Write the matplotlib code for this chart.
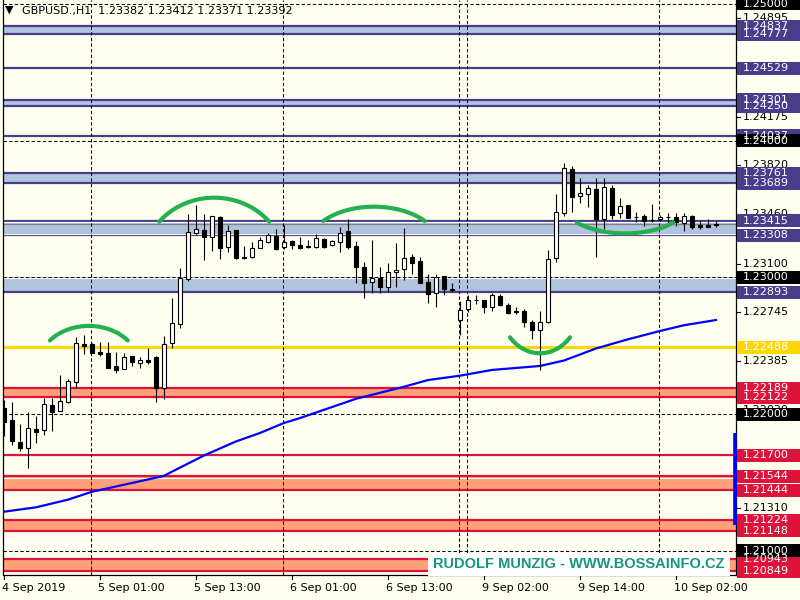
import numpy as np
import matplotlib
matplotlib.use("Agg")
import matplotlib.pyplot as plt
from matplotlib.patches import Rectangle
from matplotlib.transforms import blended_transform_factory

# GBPUSD H1, 4 Sep 2019 - 10 Sep 2019 (one value per hourly bar)
opens = [1.22042, 1.21957, 1.21798, 1.21749, 1.21891, 1.21883, 1.22066, 1.22025, 1.22086, 1.22237,
         1.22513, 1.22513, 1.22454, 1.22447, 1.22350, 1.22328, 1.22425, 1.22376, 1.22396, 1.22416,
         1.22193, 1.22518, 1.22657, 1.22986, 1.23322, 1.23346, 1.23293, 1.23444, 1.23225, 1.23346,
         1.23147, 1.23147, 1.23212, 1.23261, 1.23303, 1.23220, 1.23266, 1.23237, 1.23226, 1.23220,
         1.23278, 1.23234, 1.23261, 1.23337, 1.23226, 1.23074, 1.22969, 1.22994, 1.22928, 1.23036,
         1.23059, 1.23147, 1.23120, 1.22965, 1.22884, 1.23007, 1.22913, 1.22686, 1.22767, 1.22835,
         1.22833, 1.22780, 1.22864, 1.22797, 1.22751, 1.22753, 1.22672, 1.22614, 1.22670, 1.23139,
         1.23469, 1.23790, 1.23595, 1.23607, 1.23644, 1.23425, 1.23651, 1.23469, 1.23529, 1.23445,
         1.23449, 1.23421, 1.23427, 1.23445, 1.23439, 1.23400, 1.23449, 1.23383, 1.23383, 1.23382]
highs = [1.22103, 1.22091, 1.21927, 1.22013, 1.21986, 1.22120, 1.22120, 1.22286, 1.22255, 1.22566,
         1.22579, 1.22520, 1.22525, 1.22530, 1.22457, 1.22445, 1.22425, 1.22415, 1.22481, 1.22425,
         1.22574, 1.22847, 1.23067, 1.23461, 1.23529, 1.23461, 1.23449, 1.23449, 1.23383, 1.23346,
         1.23227, 1.23259, 1.23293, 1.23325, 1.23351, 1.23380, 1.23273, 1.23293, 1.23273, 1.23317,
         1.23286, 1.23273, 1.23371, 1.23427, 1.23266, 1.23109, 1.23273, 1.23078, 1.23103, 1.23249,
         1.23359, 1.23171, 1.23147, 1.23025, 1.23025, 1.23010, 1.22959, 1.22826, 1.22872, 1.22874,
         1.22835, 1.22888, 1.22879, 1.22811, 1.22780, 1.22767, 1.22689, 1.22753, 1.23200, 1.23610,
         1.23834, 1.23815, 1.23725, 1.23676, 1.23725, 1.23725, 1.23676, 1.23578, 1.23529, 1.23476,
         1.23461, 1.23537, 1.23456, 1.23473, 1.23473, 1.23468, 1.23456, 1.23420, 1.23425, 1.23412]
lows = [1.21839, 1.21774, 1.21730, 1.21607, 1.21788, 1.21847, 1.21878, 1.22020, 1.22083, 1.22188,
        1.22438, 1.22447, 1.22425, 1.22339, 1.22298, 1.22328, 1.22354, 1.22339, 1.22364, 1.22091,
        1.22110, 1.22481, 1.22627, 1.22976, 1.23310, 1.23127, 1.23195, 1.23132, 1.23188, 1.23132,
        1.23132, 1.23139, 1.23212, 1.23255, 1.23200, 1.23207, 1.23205, 1.23205, 1.23212, 1.23212,
        1.23212, 1.23229, 1.23188, 1.23207, 1.22957, 1.22847, 1.22884, 1.22884, 1.22896, 1.22928,
        1.22981, 1.23027, 1.22957, 1.22815, 1.22780, 1.22871, 1.22896, 1.22579, 1.22749, 1.22802,
        1.22737, 1.22757, 1.22791, 1.22732, 1.22729, 1.22635, 1.22548, 1.22323, 1.22664, 1.23115,
        1.23451, 1.23480, 1.23546, 1.23512, 1.23151, 1.23354, 1.23425, 1.23432, 1.23436, 1.23407,
        1.23378, 1.23407, 1.23412, 1.23400, 1.23375, 1.23340, 1.23354, 1.23354, 1.23365, 1.23371]
closes = [1.21944, 1.21805, 1.21749, 1.21896, 1.21871, 1.22072, 1.22017, 1.22096, 1.22242, 1.22518,
          1.22500, 1.22449, 1.22442, 1.22339, 1.22323, 1.22420, 1.22383, 1.22393, 1.22383, 1.22188,
          1.22511, 1.22664, 1.22994, 1.23330, 1.23351, 1.23297, 1.23449, 1.23217, 1.23339, 1.23139,
          1.23141, 1.23212, 1.23273, 1.23310, 1.23207, 1.23261, 1.23234, 1.23218, 1.23222, 1.23286,
          1.23225, 1.23268, 1.23327, 1.23225, 1.23078, 1.22961, 1.22994, 1.22932, 1.23043, 1.23054,
          1.23139, 1.23107, 1.22957, 1.22877, 1.23000, 1.22918, 1.22905, 1.22760, 1.22831, 1.22833,
          1.22780, 1.22869, 1.22801, 1.22737, 1.22749, 1.22670, 1.22618, 1.22672, 1.23132, 1.23476,
          1.23797, 1.23590, 1.23615, 1.23651, 1.23427, 1.23658, 1.23456, 1.23524, 1.23436, 1.23443,
          1.23415, 1.23418, 1.23444, 1.23443, 1.23407, 1.23451, 1.23371, 1.23372, 1.23372, 1.23392]

# moving average (blue line), read at a few bars
ma_bars = [0, 4, 8, 11, 16, 20, 21, 25, 29, 32, 35, 37, 44, 50, 53, 57, 61, 67, 70, 74, 78, 82, 85, 89]
ma_values = [1.21286, 1.21318, 1.21374, 1.21432, 1.21496, 1.21548, 1.21579, 1.21697, 1.21800, 1.21862,
             1.21935, 1.21971, 1.22112, 1.22200, 1.22249, 1.22281, 1.22323, 1.22352, 1.22392, 1.22480,
             1.22547, 1.22608, 1.22650, 1.22688]

time_labels = ["4 Sep 2019", "5 Sep 01:00", "5 Sep 13:00", "6 Sep 01:00",
               "6 Sep 13:00", "9 Sep 02:00", "9 Sep 14:00", "10 Sep 02:00"]
time_label_bars = [0, 12, 24, 36, 48, 60, 72, 84]
grid_bars = [10.88, 34.88, 56.88, 57.88, 81.88]

round_levels = [1.25, 1.24, 1.23, 1.22, 1.21]
scale_ticks = [1.24895, 1.24535, 1.24175, 1.23820, 1.23460, 1.23100, 1.22745,
               1.22385, 1.22030, 1.21670, 1.21310, 1.20950]

# support / resistance zones drawn on the chart
blue_zones = [(1.24837, 1.24777), (1.24301, 1.24250), (1.23761, 1.23689),
              (1.23415, 1.23308), (1.23000, 1.22893)]
blue_lines = [1.24837, 1.24777, 1.24529, 1.24301, 1.24250, 1.24037,
              1.23761, 1.23689, 1.23415, 1.23308, 1.22893]
red_zones = [(1.22189, 1.22122), (1.21544, 1.21444), (1.21224, 1.21148), (1.20943, 1.20849)]
red_lines = [1.22189, 1.22122, 1.21700, 1.21544, 1.21444, 1.21224, 1.21148, 1.20943, 1.20849]
white_lines = [1.23404, 1.23320, 1.22994, 1.21532]
yellow_level = 1.22488
bid_level = 1.23392
range_bar = (1.21863, 1.21186)

# green hand-drawn arcs: left bar, right bar, end price, apex price
green_arcs = [(5.75, 15.46, 1.22539, 1.22645),
              (19.4, 33.16, 1.23407, 1.23583),
              (39.9, 52.6, 1.23412, 1.23517),
              (63.25, 70.75, 1.22562, 1.22445),
              (71.6, 83.66, 1.23401, 1.23322)]

PURPLE = "#483d8b"
LIGHTBLUE = "#b0c4de"
CRIMSON = "#dc143c"
SALMON = "#ffa07a"
GOLD = "#ffd700"
BG = "#fffff0"
GREEN = "#22b14c"

# price labels on the scale, lower ones drawn over upper ones, round levels last
label_boxes = ([(p, PURPLE) for p in blue_lines] + [(yellow_level, GOLD)]
               + [(p, CRIMSON) for p in red_lines] + [(p, "black") for p in round_levels])

W, H = 800, 600
YMIN, YMAX = 1.20823, 1.25029
PX = (YMAX - YMIN) / 575  # price per pixel

fig = plt.figure(figsize=(8, 6), dpi=100)
fig.patch.set_facecolor(BG)
ax = fig.add_axes([3 / W, 25 / H, 733 / W, 575 / H])
ax.set_facecolor(BG)
ax.set_xlim(-0.125, 91.5)
ax.set_ylim(YMIN, YMAX)
ax.set_xticks([])
ax.set_yticks([])
ax.spines["top"].set_visible(False)
for s in ["left", "bottom", "right"]:
    ax.spines[s].set_linewidth(0.9)

dash = (0, (3.2, 2.2))

# zones
for top, bot in blue_zones:
    ax.axhspan(bot, top, color=LIGHTBLUE, lw=0, zorder=1)
for top, bot in red_zones:
    ax.axhspan(bot, top, color=SALMON, lw=0, zorder=1)
for p in blue_lines:
    ax.axhline(p, color=PURPLE, lw=1.6, zorder=2)
for p in red_lines:
    ax.axhline(p, color=CRIMSON, lw=1.6, zorder=2)
for p in white_lines:
    ax.axhline(p, color="white", lw=0.8, zorder=2)
ax.axhline(bid_level, color="#808080", lw=0.9, zorder=2)
ax.axhline(yellow_level, color=GOLD, lw=2.2, zorder=2)

# grid
for p in round_levels:
    ax.axhline(p, color="black", lw=0.75, ls=dash, zorder=3)
for b in grid_bars:
    ax.axvline(b, color="black", lw=0.75, ls=dash, zorder=3)

# moving average
ax.plot(ma_bars, ma_values, color="#0000ff", lw=1.6, zorder=4)

# candles
x = np.arange(len(opens))
ax.vlines(x, lows, highs, color="black", lw=0.8, zorder=5)
bottoms = np.minimum(opens, closes)
heights = np.maximum(np.abs(np.array(closes) - np.array(opens)), 0.00002)
colors = ["white" if c >= o else "black" for o, c in zip(opens, closes)]
ax.bar(x, heights, bottom=bottoms, width=0.6, color=colors, edgecolor="black", lw=0.8, zorder=6)

# green arcs
for x0, x1, p_end, p_apex in green_arcs:
    half = np.radians(50)
    t = np.linspace(np.pi / 2 - half, np.pi / 2 + half, 80)
    a = (x1 - x0) / 2 / np.sin(half)
    b = (p_apex - p_end) / (1 - np.cos(half))
    cx, cy = (x0 + x1) / 2, p_apex - b
    ax.plot(cx + a * np.cos(t), cy + b * np.sin(t), color=GREEN, lw=3, solid_capstyle="round", zorder=7)

# right price scale
ty = blended_transform_factory(ax.transAxes, ax.transData)
xa = lambda px: (px - 3) / 733
for t in scale_ticks:
    ax.plot([1, xa(740)], [t, t], color="black", lw=0.8, transform=ty, clip_on=False)
    ax.text(xa(743), t, f"{t:.5f}", fontsize=8, color="black", va="center", ha="left",
            transform=ty, clip_on=False)
for p, col in label_boxes:
    ax.add_patch(Rectangle((xa(737), p - 6.5 * PX), xa(800) - xa(737), 13 * PX, facecolor=col,
                           edgecolor="none", transform=ty, clip_on=False, zorder=10))
    ax.text(xa(743), p, f"{p:.5f}", fontsize=8, color="white", va="center", ha="left",
            transform=ty, clip_on=False, zorder=11)

# range marker at the right edge
ax.plot([xa(735.3), xa(735.3)], list(range_bar), color="#0000ff", lw=2.6, transform=ty,
        clip_on=False, zorder=9, solid_capstyle="butt")

# time axis
tx = blended_transform_factory(ax.transData, ax.transAxes)
for b, lab in zip(time_label_bars, time_labels):
    ax.plot([b, b], [0, -4 / 575], color="black", lw=0.8, transform=tx, clip_on=False)
    ax.text(b - 0.2, -13 / 575, lab, fontsize=8, ha="left", va="center", transform=tx, clip_on=False)

# header
fig.text(5 / W, 1 - 10 / H, "\u25bc", fontsize=8, va="center", ha="left")
fig.text(22 / W, 1 - 11 / H, "GBPUSD.,H1  " + " ".join(f"{v:.5f}" for v in
         (opens[-1], highs[-1], lows[-1], closes[-1])), fontsize=8, va="center", ha="left")

# watermark
ax.add_patch(Rectangle((xa(428), -1 / 575), xa(730) - xa(428), 23 / 575, facecolor="white",
                       edgecolor="none", transform=ax.transAxes, clip_on=False, zorder=12))
ax.text((xa(428) + xa(730)) / 2, 11 / 575, "RUDOLF MUNZIG - WWW.BOSSAINFO.CZ", fontsize=10.5,
        fontweight="bold", family="Liberation Sans", color="#17977a", ha="center", va="center",
        transform=ax.transAxes, zorder=13)

fig.savefig("out.png", dpi=100, facecolor=BG)
